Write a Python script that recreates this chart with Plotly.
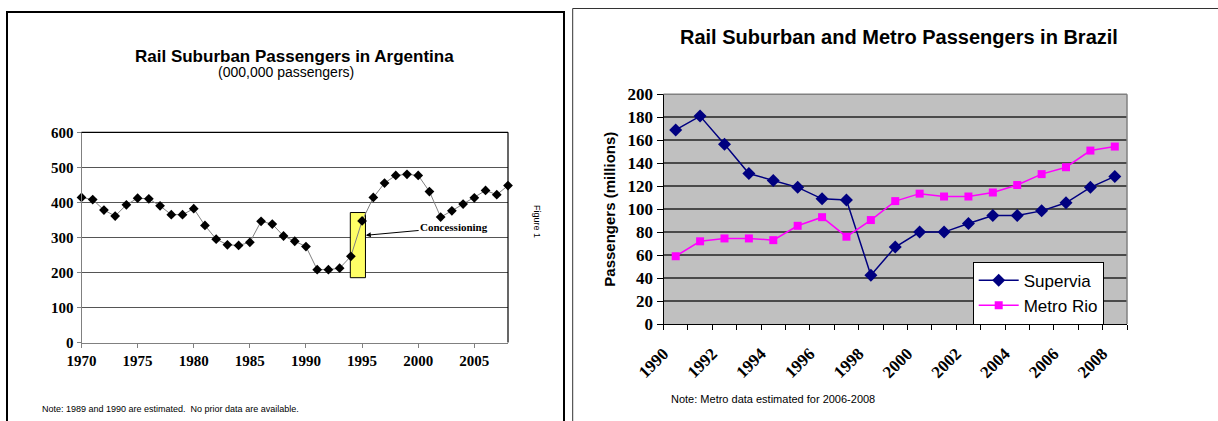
import plotly.graph_objects as go

# ---------------- data ----------------
ar_years = list(range(1970, 2009))
ar_passengers = [414, 408, 378, 361, 393, 412, 410, 390, 365, 365,
                 382, 334, 295, 279, 277, 286, 346, 338, 304, 289,
                 274, 208, 208, 212, 246, 347, 414, 455, 477, 480,
                 477, 431, 358, 376, 395, 413, 434, 422, 448]
ar_tick_years = [1970, 1975, 1980, 1985, 1990, 1995, 2000, 2005]
ar_y_ticks = [0, 100, 200, 300, 400, 500, 600]

br_years = list(range(1990, 2009))
supervia = [169, 181, 156.5, 131, 125, 119, 109, 108, 42.5, 67,
            80, 80, 87.5, 94.5, 94.5, 98.5, 105.5, 119, 128.5]
metro_rio = [59, 72, 74.5, 74.5, 73, 85.5, 93, 76, 90.5, 107,
             113.5, 111, 111, 114.5, 121, 130.5, 136.5, 151, 154.5]
br_tick_labels = ["1990", "", "1992", "", "1994", "", "1996", "", "1998", "",
                  "2000", "", "2002", "", "2004", "", "2006", "", "2008", ""]

# ---------------- layout helpers ----------------
W, H = 1218, 421
def px(x):
    return x / W
def py(y):
    return 1 - y / H

SERIF = "Liberation Serif"
SANS = "Liberation Sans"

fig = go.Figure()

fig.add_trace(go.Scatter(
    x=ar_years, y=ar_passengers, mode="lines+markers",
    line=dict(color="#808080", width=1),
    marker=dict(symbol="diamond", size=7.5, color="black"),
    xaxis="x", yaxis="y", showlegend=False, cliponaxis=False))

fig.add_trace(go.Scatter(
    x=br_years, y=supervia, mode="lines+markers", name="Supervia",
    line=dict(color="#000080", width=1.5),
    marker=dict(symbol="diamond", size=10, color="#000080"),
    xaxis="x2", yaxis="y2", cliponaxis=False))

fig.add_trace(go.Scatter(
    x=br_years, y=metro_rio, mode="lines+markers", name="Metro Rio",
    line=dict(color="#ff00ff", width=1.5),
    marker=dict(symbol="square", size=8, color="#ff00ff"),
    xaxis="x2", yaxis="y2", cliponaxis=False))

br_tickvals = [y - 0.5 for y in br_years] + [br_years[-1] + 0.5]

fig.update_layout(
    width=W, height=H, autosize=False,
    margin=dict(l=0, r=0, t=0, b=0, pad=0, autoexpand=False),
    paper_bgcolor="white", plot_bgcolor="white",
    xaxis=dict(domain=[px(81.5), px(508)], range=[1970, 2008], anchor="y", automargin=False,
               tickvals=ar_tick_years, ticktext=[str(v) for v in ar_tick_years],
               ticks="outside", ticklen=4, tickcolor="#808080",
               showline=True, linecolor="#808080", linewidth=1,
               showgrid=False, zeroline=False,
               tickfont=dict(family=SERIF, size=15, color="black", weight="bold")),
    yaxis=dict(domain=[py(342.5), py(132.3)], range=[0, 600], anchor="x", automargin=False,
               tickvals=ar_y_ticks, ticks="outside", ticklen=4, tickcolor="#808080",
               showline=True, linecolor="#808080", linewidth=1,
               showgrid=True, gridcolor="#555555", gridwidth=1, zeroline=False,
               tickfont=dict(family=SERIF, size=15, color="black", weight="bold")),
    xaxis2=dict(domain=[px(663.5), px(1127)], range=[1989.5, 2008.5], anchor="y2",
                automargin=False,
                tickvals=br_tickvals, ticktext=br_tick_labels, tickangle=-45,
                ticks="outside", ticklen=5, tickcolor="black", ticklabelstandoff=7,
                showline=True, linecolor="black", linewidth=1,
                showgrid=False, zeroline=False,
                tickfont=dict(family=SERIF, size=17, color="black", weight="bold")),
    yaxis2=dict(domain=[py(324), py(94.3)], range=[0, 200], dtick=20, anchor="x2",
                automargin=False,
                ticks="outside", ticklen=6, tickcolor="black",
                showline=True, linecolor="black", linewidth=1,
                showgrid=True, gridcolor="#4a4a4a", gridwidth=2, zeroline=False,
                tickfont=dict(family=SERIF, size=17, color="black", weight="bold"),
                title=dict(text="Passengers (millions)", standoff=8,
                           font=dict(family=SANS, size=15, color="black", weight="bold"))),
    legend=dict(x=px(972.7), y=py(261.7), xanchor="left", yanchor="top",
                bgcolor="white", bordercolor="black", borderwidth=1,
                font=dict(family=SANS, size=17, color="black"),
                tracegroupgap=0, itemwidth=40),
)

shapes = [
    # left panel frame
    dict(type="rect", xref="paper", yref="paper", x0=px(7), x1=px(564),
         y0=-0.2, y1=py(12), line=dict(color="black", width=2), layer="below"),
    # right panel frame (left and top)
    dict(type="line", xref="paper", yref="paper", x0=px(572.7), x1=px(572.7),
         y0=-0.2, y1=py(8.5), line=dict(color="#333333", width=1)),
    dict(type="line", xref="paper", yref="paper", x0=px(572.7), x1=1.01,
         y0=py(8.5), y1=py(8.5), line=dict(color="#333333", width=1)),
    # left plot area: black top and right border
    dict(type="line", xref="x domain", yref="y domain", x0=0, x1=1, y0=1, y1=1,
         line=dict(color="black", width=1.2)),
    dict(type="line", xref="x domain", yref="y domain", x0=1, x1=1, y0=0, y1=1,
         line=dict(color="black", width=1.2)),
    # highlight box for concessioning
    dict(type="rect", xref="x", yref="y", x0=1993.95, x1=1995.3, y0=185, y1=371,
         fillcolor="#ffff66", line=dict(color="black", width=1), layer="between"),
    # right plot area background and border
    dict(type="rect", xref="x2 domain", yref="y2 domain", x0=0, x1=1, y0=0, y1=1,
         fillcolor="#c0c0c0", line=dict(width=0), layer="below"),
    dict(type="line", xref="x2 domain", yref="y2 domain", x0=0, x1=1, y0=1, y1=1,
         line=dict(color="#808080", width=1.5)),
    dict(type="line", xref="x2 domain", yref="y2 domain", x0=1, x1=1, y0=0, y1=1,
         line=dict(color="#808080", width=1.5)),
]
fig.update_layout(shapes=shapes)

annotations = [
    dict(text="<b>Rail Suburban Passengers in Argentina</b>", xref="paper", yref="paper",
         x=px(294), y=py(56), xanchor="center", yanchor="middle", showarrow=False,
         font=dict(family=SANS, size=17, color="black")),
    dict(text="(000,000 passengers)", xref="paper", yref="paper",
         x=px(286), y=py(71.5), xanchor="center", yanchor="middle", showarrow=False,
         font=dict(family=SANS, size=14, color="black")),
    dict(text="Figure 1", xref="paper", yref="paper", x=px(537), y=py(221),
         xanchor="center", yanchor="middle", textangle=90, showarrow=False,
         font=dict(family=SANS, size=9, color="black")),
    dict(text="Note: 1989 and 1990 are estimated.  No prior data are available.",
         xref="paper", yref="paper", x=px(40), y=py(408.5), xanchor="left", yanchor="middle",
         showarrow=False, font=dict(family=SANS, size=9, color="black")),
    dict(text="<b>Concessioning</b>", xref="x", yref="y", x=1995.33, y=306,
         axref="x", ayref="y", ax=2003.2, ay=329, showarrow=True,
         arrowhead=2, arrowsize=1, arrowwidth=1, arrowcolor="black", standoff=0,
         font=dict(family=SERIF, size=11, color="black")),
    dict(text="<b>Rail Suburban and Metro Passengers in Brazil</b>", xref="paper", yref="paper",
         x=px(899), y=py(37), xanchor="center", yanchor="middle", showarrow=False,
         font=dict(family=SANS, size=20, color="black")),
    dict(text="Note: Metro data estimated for 2006-2008", xref="paper", yref="paper",
         x=px(669), y=py(399), xanchor="left", yanchor="middle", showarrow=False,
         font=dict(family=SANS, size=11, color="black")),
]
fig.update_layout(annotations=annotations)

fig.write_html("out.html")
